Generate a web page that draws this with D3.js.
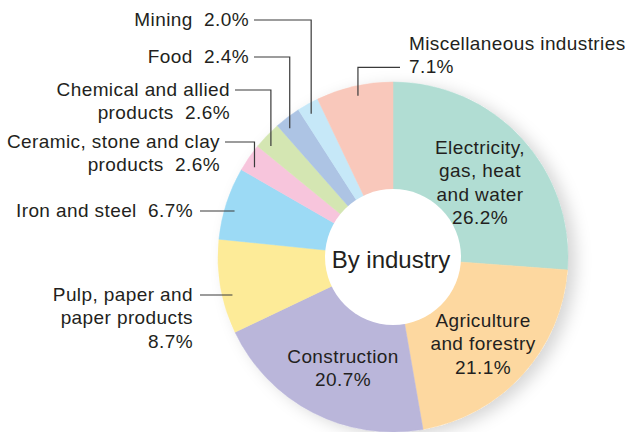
<!DOCTYPE html>
<html><head><meta charset="utf-8">
<script src="https://cdn.jsdelivr.net/npm/d3@7"></script>
<style>
html,body{margin:0;padding:0;background:#fff;}
svg{display:block;font-family:"Liberation Sans",Arial,Helvetica,sans-serif;}
text{white-space:pre;}
</style></head>
<body><svg id="c" width="625" height="432"></svg>
<script>
// ---- data ----
const categories = ["Electricity, gas, heat and water","Agriculture and forestry","Construction","Pulp, paper and paper products","Iron and steel","Ceramic, stone and clay products","Chemical and allied products","Food","Mining","Miscellaneous industries"];
const values = [26.2, 21.1, 20.7, 8.7, 6.7, 2.6, 2.6, 2.4, 2.0, 7.1];
const valueLabels = ["26.2%","21.1%","20.7%","8.7%","6.7%","2.6%","2.6%","2.4%","2.0%","7.1%"];
const colors = ["#b1ddd3","#fdd8a0","#bab6da","#fdeb98","#9cdaf5","#f7c5dc","#d4e6b2","#adc4e4","#c6e8f8","#f9c8bb"];
const centerTitle = "By industry";

// label text lines (inside / outside)
const labelLines = [
  ["Electricity,","gas, heat","and water","26.2%"],
  ["Agriculture","and forestry","21.1%"],
  ["Construction","20.7%"],
  ["Pulp, paper and","paper products","8.7%"],
  ["Iron and steel  6.7%"],
  ["Ceramic, stone and clay","products  2.6%"],
  ["Chemical and allied","products  2.6%"],
  ["Food  2.4%"],
  ["Mining  2.0%"],
  ["Miscellaneous industries","7.1%"]
];

// ---- layout ----
const W = 625, H = 432;
const cx = 393, cy = 257, R = 175, r0 = 68;
const fs = 19, lh = 23.3, ls = 0.4;
// inside labels: [x, firstBaseline]
const inside = {0:[480,154],1:[483,327],2:[343,363]};
// outside labels
const outside = {
  3:{anchor:"end",x:193,y:301,row:0,kind:"h"},
  4:{anchor:"end",x:193,y:217,row:0,kind:"h"},
  5:{anchor:"end",x:220,y:148,row:0,kind:"e",nudge:-1.7},
  6:{anchor:"end",x:230,y:96,row:0,kind:"e",nudge:-1.7},
  7:{anchor:"end",x:249,y:63,row:0,kind:"e",nudge:-1.7},
  8:{anchor:"end",x:249,y:26,row:0,kind:"e",nudge:-0.6},
  9:{anchor:"start",x:409,y:50,row:1,kind:"e",nudge:0.5}
};

const svg = d3.select("#c");
const defs = svg.append("defs");
const f = defs.append("filter").attr("id","sh").attr("x","-20%").attr("y","-20%").attr("width","150%").attr("height","150%");
f.append("feDropShadow").attr("dx",8).attr("dy",4).attr("stdDeviation",8).attr("flood-color","#000").attr("flood-opacity",0.16);

const pie = d3.pie().sort(null).value(d=>d);
const arcs = pie(values);
const arc = d3.arc().innerRadius(0).outerRadius(R);
const g = svg.append("g").attr("transform",`translate(${cx},${cy})`);

// shadow disk
g.append("circle").attr("r",R).attr("fill","#fff").attr("filter","url(#sh)");
g.selectAll("path.s").data(arcs).join("path").attr("class","s")
  .attr("d",arc).attr("fill",(d,i)=>colors[i]).attr("stroke",(d,i)=>colors[i]).attr("stroke-width",0.5);
g.append("circle").attr("r",r0).attr("fill","#fff");
g.append("text").attr("x",-2).attr("y",11).attr("text-anchor","middle")
  .attr("font-size",24).attr("fill","#231f20").text(centerTitle);

// inside labels
Object.entries(inside).forEach(([i,[x,y]])=>{
  const t = svg.append("text").attr("text-anchor","middle").attr("font-size",fs)
    .attr("letter-spacing",ls).attr("fill","#231f20");
  labelLines[i].forEach((s,k)=>t.append("tspan").attr("x",x).attr("y",y+k*lh).text(s));
});

// outside labels + leaders
const line = d3.line();
Object.entries(outside).forEach(([i,o])=>{
  i=+i;
  const t = svg.append("text").attr("text-anchor",o.anchor).attr("font-size",fs)
    .attr("letter-spacing",ls).attr("fill","#231f20");
  labelLines[i].forEach((s,k)=>t.append("tspan").attr("x",o.x).attr("y",o.y+k*lh).text(s));
  const ly = o.y + o.row*lh - 6;
  const ra = 165;
  let pts;
  if(o.kind==="h"){
    const dy = ly - cy;
    const ax = cx - Math.sqrt(ra*ra - dy*dy);
    pts = [[o.x+7, ly],[ax, ly]];
  } else {
    const d = arcs[i];
    const a = (d.startAngle+d.endAngle)/2 + (o.nudge||0)*Math.PI/180;
    const ax = cx + ra*Math.sin(a), ay = cy - ra*Math.cos(a);
    const sx = o.anchor==="end" ? o.x+5 : o.x-9;
    pts = [[sx, ly],[ax, ly],[ax, ay]];
  }
  svg.append("path").attr("d",line(pts)).attr("fill","none").attr("stroke","#3a3a3a").attr("stroke-width",1.2);
});
</script></body></html>
